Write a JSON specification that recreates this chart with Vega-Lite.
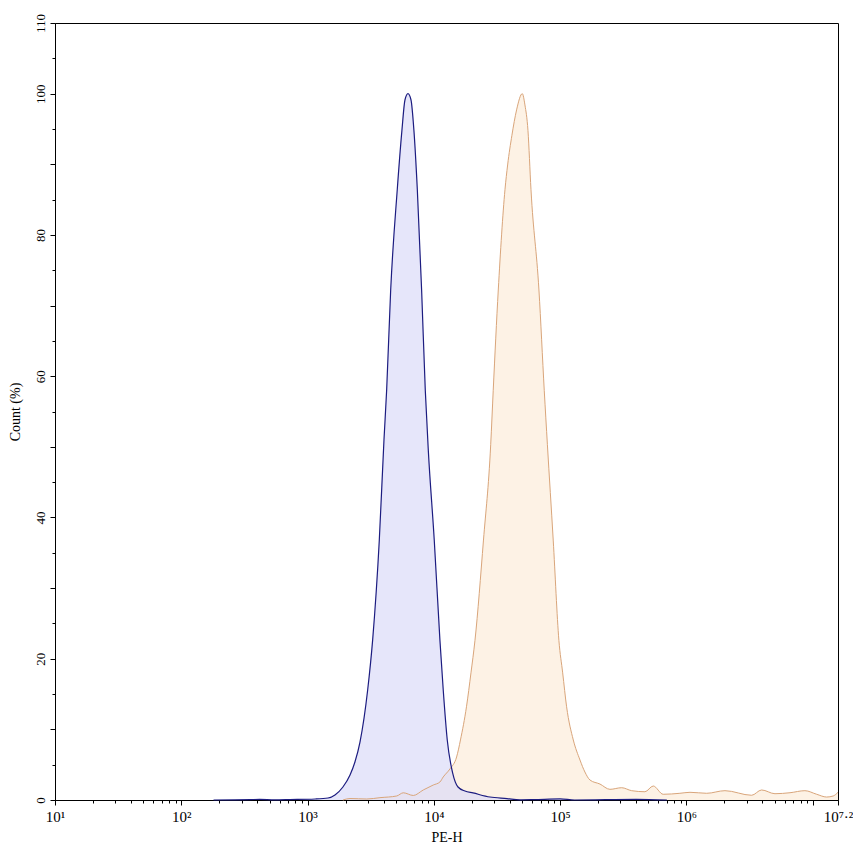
{
  "$schema": "https://vega.github.io/schema/vega-lite/v6.json",
  "width": 783,
  "height": 777,
  "autosize": {"type": "none"},
  "padding": {"left": 55, "top": 23, "right": 15, "bottom": 56},
  "background": "white",
  "config": {
    "view": {"stroke": "black", "strokeWidth": 1},
    "font": "Liberation Serif",
    "axis": {"grid": false, "domainColor": "black", "tickColor": "black", "labelColor": "black", "titleColor": "black", "labelFont": "Liberation Serif", "titleFont": "Liberation Serif", "titleFontWeight": "normal"}
  },
  "datasets": {
    "blue": [
      {"x": 180, "y": 0}, {"x": 350, "y": 0.05}, {"x": 417, "y": 0.1}, {"x": 550, "y": 0.02}, {"x": 726, "y": 0.06},
      {"x": 1146, "y": 0.14}, {"x": 1452, "y": 0.28}, {"x": 1648, "y": 0.71}, {"x": 1905, "y": 1.84},
      {"x": 2168, "y": 3.54}, {"x": 2371, "y": 5.38}, {"x": 2600, "y": 8.2}, {"x": 2992, "y": 15.6},
      {"x": 3273, "y": 22.6}, {"x": 3698, "y": 36.8}, {"x": 4027, "y": 51.0}, {"x": 4227, "y": 58.0},
      {"x": 4550, "y": 72.2}, {"x": 5129, "y": 86.4}, {"x": 5585, "y": 94.8}, {"x": 5902, "y": 99.1},
      {"x": 6237, "y": 100}, {"x": 6592, "y": 99.1}, {"x": 6950, "y": 94.8}, {"x": 7396, "y": 86.4},
      {"x": 7998, "y": 72.2}, {"x": 8551, "y": 58.0}, {"x": 9036, "y": 49.5}, {"x": 10069, "y": 36.8},
      {"x": 11169, "y": 22.6}, {"x": 11858, "y": 15.6}, {"x": 12764, "y": 8.5}, {"x": 14093, "y": 3.8},
      {"x": 15524, "y": 1.84}, {"x": 17620, "y": 1.27}, {"x": 20417, "y": 1.0}, {"x": 27797, "y": 0.42},
      {"x": 37931, "y": 0.2}, {"x": 47863, "y": 0.02}, {"x": 62000, "y": 0.05}, {"x": 100000, "y": 0.15},
      {"x": 130000, "y": 0.0}, {"x": 400000, "y": 0.1}, {"x": 700000, "y": 0.0}
    ],
    "orange": [
      {"x": 1905, "y": 0}, {"x": 2168, "y": 0.21}, {"x": 2938, "y": 0.14}, {"x": 3741, "y": 0.33},
      {"x": 5082, "y": 0.57}, {"x": 5728, "y": 1.02}, {"x": 6871, "y": 0.64}, {"x": 8241, "y": 1.42},
      {"x": 9886, "y": 2.12}, {"x": 11169, "y": 2.55}, {"x": 11858, "y": 3.26}, {"x": 13397, "y": 4.39},
      {"x": 15136, "y": 6.09}, {"x": 16240, "y": 8.5}, {"x": 18120, "y": 13.2}, {"x": 19670, "y": 18.0},
      {"x": 21160, "y": 22.6}, {"x": 24705, "y": 36.8}, {"x": 28184, "y": 50.3}, {"x": 29512, "y": 58.0},
      {"x": 32359, "y": 72.2}, {"x": 36559, "y": 86.4}, {"x": 38371, "y": 89.9}, {"x": 41495, "y": 94.1},
      {"x": 45186, "y": 97.7}, {"x": 50119, "y": 100}, {"x": 52602, "y": 98.4}, {"x": 55590, "y": 94.8},
      {"x": 58749, "y": 86.4}, {"x": 67920, "y": 72.2}, {"x": 74817, "y": 58.0}, {"x": 79250, "y": 50.3},
      {"x": 88105, "y": 36.8}, {"x": 97724, "y": 22.6}, {"x": 104713, "y": 18.0}, {"x": 112460, "y": 13.2},
      {"x": 127057, "y": 8.5}, {"x": 143549, "y": 5.66}, {"x": 157036, "y": 3.96}, {"x": 172187, "y": 2.83},
      {"x": 206538, "y": 2.26}, {"x": 247742, "y": 1.51}, {"x": 306902, "y": 1.74}, {"x": 368129, "y": 1.32},
      {"x": 468813, "y": 1.17}, {"x": 545758, "y": 1.98}, {"x": 654636, "y": 0.81}, {"x": 887156, "y": 0.95},
      {"x": 1066596, "y": 1.09}, {"x": 1445440, "y": 0.95}, {"x": 2018366, "y": 1.32}, {"x": 3280953, "y": 0.67},
      {"x": 3935501, "y": 1.42}, {"x": 5023425, "y": 0.89}, {"x": 6606934, "y": 1.03}, {"x": 8669619, "y": 1.32},
      {"x": 10739894, "y": 0.81}, {"x": 12882496, "y": 0.42}, {"x": 14521460, "y": 0.57}, {"x": 15848932, "y": 1.09}
    ]
  },
  "encoding": {
    "x": {
      "field": "x", "type": "quantitative",
      "scale": {"type": "log", "domain": [10, 15848932], "nice": false},
      "axis": {
        "title": "PE-H", "titleFontSize": 14, "titlePadding": 6,
        "values": [10,20,30,40,50,60,70,80,90,100,200,300,400,500,600,700,800,900,1000,2000,3000,4000,5000,6000,7000,8000,9000,10000,20000,30000,40000,50000,60000,70000,80000,90000,100000,200000,300000,400000,500000,600000,700000,800000,900000,1000000,2000000,3000000,4000000,5000000,6000000,7000000,8000000,9000000,10000000,15848932],
        "labelExpr": "datum.value == 10 ? '10¹' : datum.value == 100 ? '10²' : datum.value == 1000 ? '10³' : datum.value == 10000 ? '10⁴' : datum.value == 100000 ? '10⁵' : datum.value == 1000000 ? '10⁶' : datum.value == 15848932 ? '10⁷·²' : ''",
        "labelFontSize": 15, "labelPadding": 4, "labelOverlap": false, "labelBound": false, "labelFlush": false,
        "tickSize": {"condition": {"test": "datum.value == 10 || datum.value == 100 || datum.value == 1000 || datum.value == 10000 || datum.value == 100000 || datum.value == 1000000 || datum.value == 10000000 || datum.value == 15848932", "value": 5}, "value": 3}
      }
    },
    "y": {
      "field": "y", "type": "quantitative",
      "scale": {"domain": [0, 110], "nice": false},
      "axis": {
        "title": "Count (%)", "titleFontSize": 14, "titlePadding": 12,
        "values": [0,5,10,15,20,25,30,35,40,45,50,55,60,65,70,75,80,85,90,95,100,105,110],
        "labelExpr": "(datum.value % 20 == 0 || datum.value == 110) ? datum.label : ''",
        "labelAngle": -90, "labelAlign": "center", "labelBaseline": "bottom",
        "labelFontSize": 13, "labelPadding": 3, "labelOverlap": false,
        "tickSize": {"condition": {"test": "datum.value % 10 == 0", "value": 5}, "value": 3}
      }
    }
  },
  "layer": [
    {"data": {"name": "orange"}, "mark": {"type": "area", "color": "#fdf0e0", "opacity": 0.85, "interpolate": "monotone"}},
    {"data": {"name": "blue"}, "mark": {"type": "area", "color": "#dcdcf8", "opacity": 0.7, "interpolate": "monotone"}},
    {"data": {"name": "orange"}, "mark": {"type": "line", "color": "#d9a57a", "strokeWidth": 1, "interpolate": "monotone"}},
    {"data": {"name": "blue"}, "mark": {"type": "line", "color": "#1c1c80", "strokeWidth": 1.2, "interpolate": "monotone"}}
  ]
}
